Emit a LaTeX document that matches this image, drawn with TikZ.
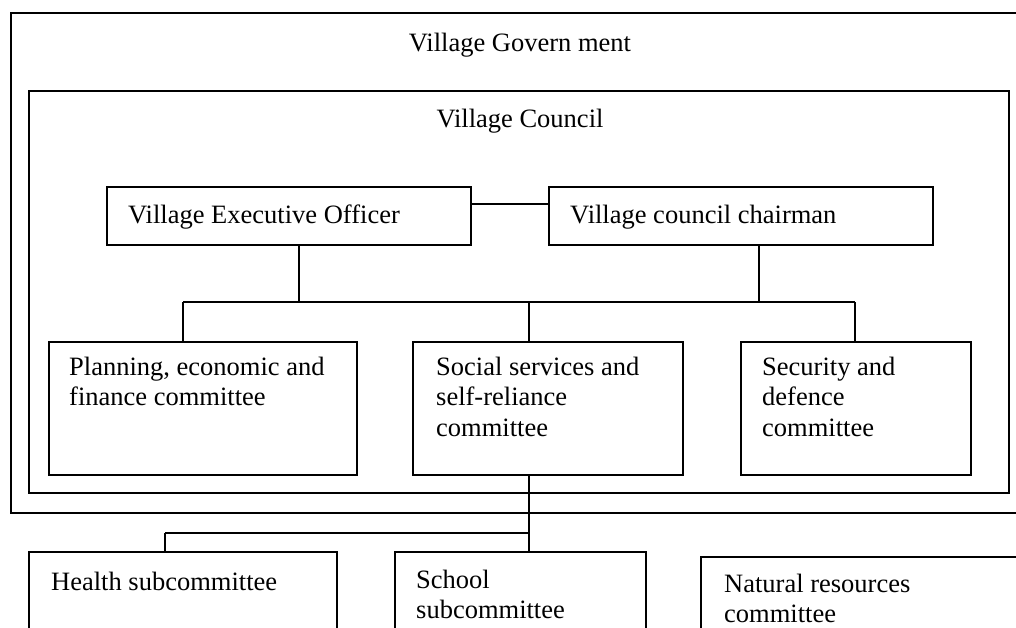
\documentclass[tikz,border=0pt]{standalone}
\usepackage{fontspec}
\setmainfont{Liberation Serif}
\begin{document}
\begin{tikzpicture}[x=1pt,y=-1pt,
  frame/.style={draw, rectangle, line width=1.8pt, inner sep=0pt, outer sep=0pt, anchor=north west},
  lbl/.style={inner sep=0pt, anchor=base west, font=\fontsize{26.5pt}{30.5pt}\selectfont},
  link/.style={line width=1.8pt}]
\clip (0,0) rectangle (1016,628);

% Enclosing frames
\node[frame, minimum width=1040pt, minimum height=500pt] (gov) at (11,13) {};
\node[frame, minimum width=980pt, minimum height=402pt] (council) at (29,91) {};

% Council officers
\node[frame, minimum width=364pt, minimum height=58pt] (veo) at (107,187) {};
\node[frame, minimum width=384pt, minimum height=58pt] (vcc) at (549,187) {};

% Standing committees
\node[frame, minimum width=308pt, minimum height=133pt] (plan) at (49,342) {};
\node[frame, minimum width=270pt, minimum height=133pt] (soc) at (413,342) {};
\node[frame, minimum width=230pt, minimum height=133pt] (sec) at (741,342) {};

% Subcommittees
\node[frame, minimum width=308pt, minimum height=100pt] (health) at (29,552) {};
\node[frame, minimum width=251pt, minimum height=100pt] (school) at (395,552) {};
\node[frame, minimum width=340pt, minimum height=100pt] (natres) at (701,557) {};

% Labels
\node[lbl, anchor=base] at (520,52) {Village Govern ment};
\node[lbl, anchor=base] at (520,128) {Village Council};
\node[lbl] at (128,224) {Village Executive Officer};
\node[lbl] at (570,224) {Village council chairman};
\node[lbl] at (69,375) {\begin{tabular}[t]{@{}l@{}}Planning, economic and\\finance committee\end{tabular}};
\node[lbl] at (436,375) {\begin{tabular}[t]{@{}l@{}}Social services and\\self-reliance\\committee\end{tabular}};
\node[lbl] at (762,375) {\begin{tabular}[t]{@{}l@{}}Security and\\defence\\committee\end{tabular}};
\node[lbl] at (51,590) {Health subcommittee};
\node[lbl] at (416,588) {\begin{tabular}[t]{@{}l@{}}School\\subcommittee\end{tabular}};
\node[lbl] at (724,592) {\begin{tabular}[t]{@{}l@{}}Natural resources\\committee\end{tabular}};

% Officer link
\draw[link] ([yshift=-17pt]veo.north east) -- ([yshift=-17pt]vcc.north west);

% Committee bus
\coordinate (busL) at (183,302);
\coordinate (busR) at (855,302);
\draw[link] (busL) -- (busR);
\draw[link] ([xshift=10pt]veo.south) -- ([xshift=10pt]veo.south |- busL);
\draw[link] ([xshift=18pt]vcc.south) -- ([xshift=18pt]vcc.south |- busL);
\draw[link] (busL) -- (busL |- plan.north);
\draw[link] ([xshift=-19pt]soc.north) -- ([xshift=-19pt]soc.north |- busL);
\draw[link] (busR) -- (busR |- sec.north);

% Subcommittee bus
\coordinate (subL) at (165,533);
\draw[link] ([xshift=-19pt]soc.south) -- ([xshift=-19pt]soc.south |- school.north);
\draw[link] (subL) -- ([xshift=-19pt]soc.south |- subL);
\draw[link] (subL) -- (subL |- health.north);
\end{tikzpicture}
\end{document}
